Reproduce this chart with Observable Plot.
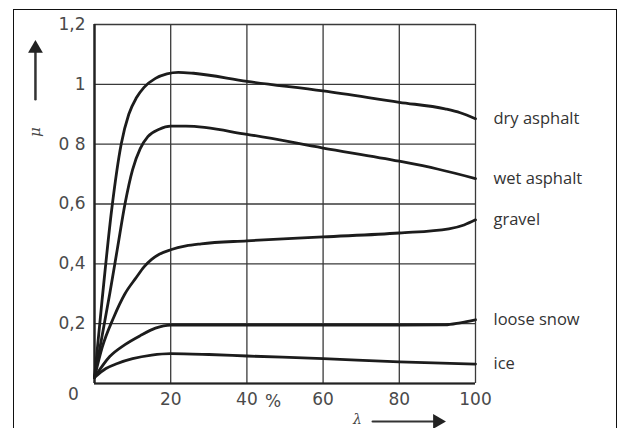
<!DOCTYPE html>
<html>
<head>
<meta charset="utf-8">
<script src="https://cdn.jsdelivr.net/npm/d3@7"></script>
<script src="https://cdn.jsdelivr.net/npm/@observablehq/plot@0.6"></script>
<style>
  html, body { margin: 0; padding: 0; background: #fff; }
  #wrap { position: relative; width: 622px; height: 428px; overflow: hidden; }
  #border { position: absolute; left: 13px; top: 9px; width: 604px; height: 440px; border: 1.5px solid #111; box-sizing: border-box; }
  #chart { position: absolute; left: 0; top: 0; }
</style>
</head>
<body>
<div id="wrap"><div id="border"></div><div id="chart"></div></div>
<script>
// slip (%) and friction coefficient per surface
const dryX = [0, 2, 4.5, 7, 9, 11, 13, 16, 19, 22, 26, 40, 60, 80, 92, 96, 100];
const dryY = [0.02, 0.28, 0.58, 0.8, 0.9, 0.955, 0.99, 1.02, 1.035, 1.04, 1.037, 1.01, 0.978, 0.94, 0.918, 0.905, 0.885];
const wetX = [0, 2, 4, 6, 8, 10, 12, 14, 17, 20, 24, 40, 60, 80, 90, 100];
const wetY = [0.02, 0.16, 0.3, 0.45, 0.6, 0.715, 0.785, 0.825, 0.85, 0.86, 0.86, 0.833, 0.787, 0.743, 0.717, 0.685];
const gravelX = [0, 2, 5, 8, 11, 13, 15, 17, 20, 24, 28, 40, 60, 80, 93, 97, 100];
const gravelY = [0.02, 0.12, 0.22, 0.3, 0.355, 0.39, 0.415, 0.432, 0.447, 0.46, 0.467, 0.477, 0.49, 0.503, 0.517, 0.53, 0.547];
const snowX = [0, 4, 8, 12, 16, 20, 40, 60, 80, 92, 96, 100];
const snowY = [0.02, 0.09, 0.13, 0.16, 0.185, 0.195, 0.195, 0.195, 0.195, 0.196, 0.203, 0.213];
const iceX = [0, 3, 6, 10, 15, 20, 30, 40, 60, 80, 100];
const iceY = [0.02, 0.05, 0.067, 0.083, 0.095, 0.1, 0.097, 0.092, 0.083, 0.072, 0.065];

const surfaces = ["dry asphalt", "wet asphalt", "gravel", "loose snow", "ice"];
const seriesX = [dryX, wetX, gravelX, snowX, iceX];
const seriesY = [dryY, wetY, gravelY, snowY, iceY];

const xGrid = [0, 20, 40, 60, 80, 100];
const yGrid = [0, 0.2, 0.4, 0.6, 0.8, 1.0, 1.2];
const xTicks = [20, 40, 60, 80, 100];
const yTicks = [0.2, 0.4, 0.6, 0.8, 1.0, 1.2];
const yTickLabels = ["0,2", "0,4", "0,6", "0 8", "1", "1,2"];

const data = surfaces.flatMap((s, i) => seriesX[i].map((x, j) => ({surface: s, x, y: seriesY[i][j]})));

// annotation anchors (in data units)
const muArrow = [{x: -15.5, y: 0.95}, {x: -15.5, y: 1.12}];
const slipArrow = [{x: 73, y: -0.127}, {x: 90, y: -0.127}];

const tickFont = "DejaVu Sans, sans-serif";

const plot = Plot.plot({
  width: 622,
  height: 428,
  marginLeft: 94,
  marginRight: 147,
  marginTop: 24,
  marginBottom: 45,
  style: {fontFamily: tickFont, fontSize: "17px", background: "transparent", overflow: "visible"},
  x: {domain: [0, 100], label: null},
  y: {domain: [0, 1.2], label: null},
  marks: [
    Plot.ruleX(xGrid, {stroke: "#3a3a3a", strokeWidth: 1.3}),
    Plot.ruleY(yGrid, {stroke: "#3a3a3a", strokeWidth: 1.3}),
    Plot.ruleX([0], {stroke: "#222", strokeWidth: 2.4}),
    Plot.ruleY([0], {stroke: "#222", strokeWidth: 2}),
    Plot.axisX({ticks: xTicks, tickSize: 0, tickPadding: 9, fontSize: 17, fill: "#4a4a4a", label: null}),
    Plot.axisY({ticks: yTicks, tickSize: 0, tickPadding: 9, fontSize: 17, fill: "#4a4a4a", label: null,
      tickFormat: d => yTickLabels[yTicks.indexOf(d)] ?? ""}),
    Plot.line(data, {x: "x", y: "y", z: "surface", curve: "monotone-x", stroke: "#1c1c1c", strokeWidth: 2.8}),
    Plot.text(data, Plot.selectLast({x: "x", y: "y", z: "surface", text: "surface", textAnchor: "start", dx: 18,
      fontFamily: "Open Sans, sans-serif", fontSize: 16.5, fill: "#333"})),
    Plot.text(["0"], {x: 0, y: 0, text: d => d, dx: -21, dy: 11, fontSize: 17, fill: "#4a4a4a"}),
    Plot.text(["%"], {x: 50, y: 0, text: d => d, dy: 18, dx: -12, fontSize: 17, fill: "#4a4a4a"}),
    Plot.line(muArrow, {x: "x", y: "y", stroke: "#333", strokeWidth: 2.5}),
    Plot.dot(muArrow.slice(1), {x: "x", y: "y", symbol: "triangle", r: 5.5, fill: "#222", stroke: null}),
    Plot.text(["μ"], {x: -15.5, y: 0.84, text: d => d, rotate: -90, fontStyle: "italic", fontFamily: "DejaVu Serif, serif", fontSize: 15, fill: "#444"}),
    Plot.line(slipArrow, {x: "x", y: "y", stroke: "#333", strokeWidth: 2.2}),
    Plot.dot(slipArrow.slice(1), {x: "x", y: "y", symbol: "triangle", r: 5.5, rotate: 90, fill: "#222", stroke: null}),
    Plot.text(["λ"], {x: 69, y: -0.12, text: d => d, fontStyle: "italic", fontFamily: "DejaVu Serif, serif", fontSize: 14, fill: "#444"})
  ]
});
document.getElementById("chart").append(plot);
</script>
</body>
</html>
